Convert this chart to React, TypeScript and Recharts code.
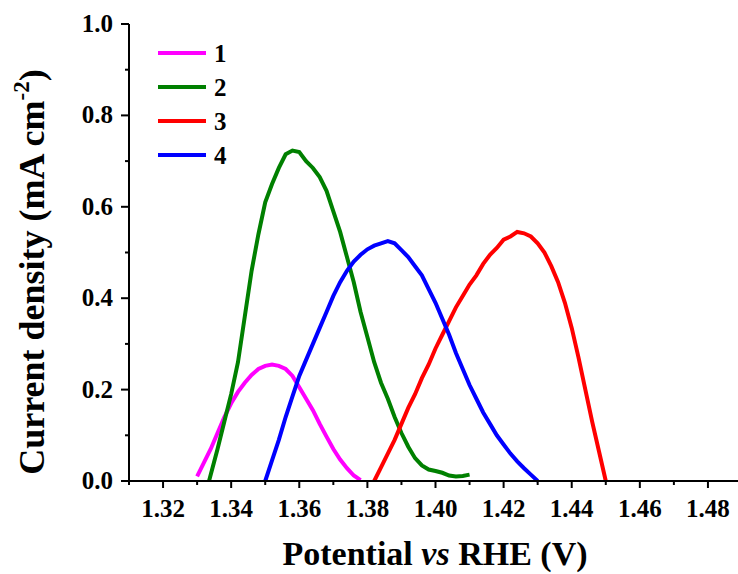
import React from 'react';
import { LineChart, Line, XAxis, YAxis, Legend, Label } from 'recharts';

const FONT = '"Liberation Serif", "Times New Roman", serif';

// curve 1 (magenta)
const series1 = [
  { x: 1.330, y: 0.01 }, { x: 1.332, y: 0.04 }, { x: 1.334, y: 0.07 }, { x: 1.336, y: 0.105 },
  { x: 1.338, y: 0.14 }, { x: 1.340, y: 0.17 }, { x: 1.342, y: 0.195 }, { x: 1.344, y: 0.215 },
  { x: 1.346, y: 0.232 }, { x: 1.348, y: 0.245 }, { x: 1.350, y: 0.252 }, { x: 1.352, y: 0.255 },
  { x: 1.354, y: 0.252 }, { x: 1.356, y: 0.245 }, { x: 1.358, y: 0.23 }, { x: 1.360, y: 0.205 },
  { x: 1.362, y: 0.18 }, { x: 1.364, y: 0.155 }, { x: 1.366, y: 0.125 }, { x: 1.368, y: 0.097 },
  { x: 1.370, y: 0.07 }, { x: 1.372, y: 0.047 }, { x: 1.374, y: 0.028 }, { x: 1.376, y: 0.012 },
  { x: 1.378, y: 0.002 },
];

// curve 2 (green)
const series2 = [
  { x: 1.3335, y: 0.0 }, { x: 1.336, y: 0.07 }, { x: 1.338, y: 0.13 }, { x: 1.340, y: 0.19 },
  { x: 1.342, y: 0.26 }, { x: 1.344, y: 0.36 }, { x: 1.346, y: 0.46 }, { x: 1.348, y: 0.54 },
  { x: 1.350, y: 0.61 }, { x: 1.352, y: 0.65 }, { x: 1.354, y: 0.685 }, { x: 1.356, y: 0.715 },
  { x: 1.358, y: 0.723 }, { x: 1.360, y: 0.72 }, { x: 1.362, y: 0.70 }, { x: 1.364, y: 0.685 },
  { x: 1.366, y: 0.665 }, { x: 1.368, y: 0.635 }, { x: 1.370, y: 0.59 }, { x: 1.372, y: 0.545 },
  { x: 1.374, y: 0.49 }, { x: 1.376, y: 0.435 }, { x: 1.378, y: 0.37 }, { x: 1.380, y: 0.315 },
  { x: 1.382, y: 0.26 }, { x: 1.384, y: 0.215 }, { x: 1.386, y: 0.18 }, { x: 1.388, y: 0.14 },
  { x: 1.390, y: 0.105 }, { x: 1.392, y: 0.075 }, { x: 1.394, y: 0.05 }, { x: 1.396, y: 0.034 },
  { x: 1.398, y: 0.025 }, { x: 1.400, y: 0.022 }, { x: 1.402, y: 0.018 }, { x: 1.404, y: 0.012 },
  { x: 1.406, y: 0.01 }, { x: 1.408, y: 0.011 }, { x: 1.410, y: 0.014 },
];

// curve 3 (red)
const series3 = [
  { x: 1.382, y: 0.0 }, { x: 1.384, y: 0.03 }, { x: 1.386, y: 0.06 }, { x: 1.388, y: 0.09 },
  { x: 1.390, y: 0.125 }, { x: 1.392, y: 0.16 }, { x: 1.394, y: 0.19 }, { x: 1.396, y: 0.225 },
  { x: 1.398, y: 0.255 }, { x: 1.400, y: 0.29 }, { x: 1.402, y: 0.32 }, { x: 1.404, y: 0.35 },
  { x: 1.406, y: 0.38 }, { x: 1.408, y: 0.405 }, { x: 1.410, y: 0.43 }, { x: 1.412, y: 0.45 },
  { x: 1.414, y: 0.475 }, { x: 1.416, y: 0.495 }, { x: 1.418, y: 0.51 }, { x: 1.420, y: 0.528 },
  { x: 1.422, y: 0.535 }, { x: 1.424, y: 0.545 }, { x: 1.426, y: 0.542 }, { x: 1.428, y: 0.535 },
  { x: 1.430, y: 0.52 }, { x: 1.432, y: 0.50 }, { x: 1.434, y: 0.47 }, { x: 1.436, y: 0.435 },
  { x: 1.438, y: 0.39 }, { x: 1.440, y: 0.335 }, { x: 1.442, y: 0.27 }, { x: 1.444, y: 0.20 },
  { x: 1.446, y: 0.13 }, { x: 1.448, y: 0.065 }, { x: 1.450, y: 0.0 },
];

// curve 4 (blue)
const series4 = [
  { x: 1.350, y: 0.0 }, { x: 1.352, y: 0.045 }, { x: 1.354, y: 0.09 }, { x: 1.356, y: 0.14 },
  { x: 1.358, y: 0.185 }, { x: 1.360, y: 0.23 }, { x: 1.362, y: 0.265 }, { x: 1.364, y: 0.30 },
  { x: 1.366, y: 0.335 }, { x: 1.368, y: 0.37 }, { x: 1.370, y: 0.405 }, { x: 1.372, y: 0.435 },
  { x: 1.374, y: 0.46 }, { x: 1.376, y: 0.48 }, { x: 1.378, y: 0.495 }, { x: 1.380, y: 0.507 },
  { x: 1.382, y: 0.515 }, { x: 1.384, y: 0.52 }, { x: 1.386, y: 0.525 }, { x: 1.388, y: 0.52 },
  { x: 1.390, y: 0.505 }, { x: 1.392, y: 0.49 }, { x: 1.394, y: 0.47 }, { x: 1.396, y: 0.45 },
  { x: 1.398, y: 0.42 }, { x: 1.400, y: 0.39 }, { x: 1.402, y: 0.355 }, { x: 1.404, y: 0.32 },
  { x: 1.406, y: 0.28 }, { x: 1.408, y: 0.245 }, { x: 1.410, y: 0.21 }, { x: 1.412, y: 0.18 },
  { x: 1.414, y: 0.15 }, { x: 1.416, y: 0.125 }, { x: 1.418, y: 0.10 }, { x: 1.420, y: 0.08 },
  { x: 1.422, y: 0.06 }, { x: 1.424, y: 0.043 }, { x: 1.426, y: 0.028 }, { x: 1.428, y: 0.014 },
  { x: 1.430, y: 0.0 },
];

const xTicks = [1.31, 1.32, 1.33, 1.34, 1.35, 1.36, 1.37, 1.38, 1.39, 1.40,
  1.41, 1.42, 1.43, 1.44, 1.45, 1.46, 1.47, 1.48, 1.49];
const yTicks = [0, 0.1, 0.2, 0.3, 0.4, 0.5, 0.6, 0.7, 0.8, 0.9, 1.0];

const XTick = (props: any) => {
  const { x, y, payload } = props;
  const v = payload.value;
  const major = Math.round(v * 100) % 2 === 0;
  return (
    <g>
      <line x1={x} x2={x} y1={y} y2={y + (major ? 7 : 4)} stroke="#000" strokeWidth={2} />
      {major && (
        <text x={x} y={y + 36} textAnchor="middle" fontFamily={FONT} fontWeight="bold" fontSize={25} fill="#000">
          {v.toFixed(2)}
        </text>
      )}
    </g>
  );
};

const YTick = (props: any) => {
  const { x, y, payload } = props;
  const v = payload.value;
  const major = Math.round(v * 10) % 2 === 0;
  return (
    <g>
      <line x1={x} x2={x - (major ? 8 : 4)} y1={y} y2={y} stroke="#000" strokeWidth={2} />
      {major && (
        <text x={x - 16} y={y + 8} textAnchor="end" fontFamily={FONT} fontWeight="bold" fontSize={25} fill="#000">
          {v.toFixed(1)}
        </text>
      )}
    </g>
  );
};

const XTitle = () => (
  <text x={435} y={565} textAnchor="middle" fontFamily={FONT} fontWeight="bold" fontSize={34} fill="#000">
    Potential <tspan fontStyle="italic">vs</tspan> RHE (V)
  </text>
);

const YTitle = () => (
  <text
    transform="translate(44, 272) rotate(-90)"
    textAnchor="middle"
    fontFamily={FONT}
    fontWeight="bold"
    fontSize={36}
    fill="#000"
  >
    Current density (mA cm<tspan dy={-15} fontSize={23}>-2</tspan><tspan dy={15}>)</tspan>
  </text>
);

const renderLegend = (props: any) => {
  const { payload } = props;
  return (
    <div>
      {(payload || []).map((p: any) => (
        <div key={p.value} style={{ display: 'flex', alignItems: 'center', height: 34 }}>
          <div style={{ width: 48, height: 4, background: p.color, marginRight: 8 }} />
          <span style={{ fontFamily: FONT, fontWeight: 'bold', fontSize: 25, color: '#000', lineHeight: '25px' }}>
            {p.value}
          </span>
        </div>
      ))}
    </div>
  );
};

export default function App() {
  return (
    <div style={{ position: 'absolute', left: 0, top: 0, width: 738, height: 574, overflow: 'hidden', background: '#fff' }}>
      <LineChart width={750} height={574} margin={{ top: 24, right: 8, bottom: 33, left: 49 }}>
        <XAxis
          dataKey="x"
          type="number"
          domain={[1.31, 1.49]}
          ticks={xTicks}
          interval={0}
          allowDataOverflow
          height={60}
          tickSize={0}
          tickMargin={0}
          tickLine={false}
          tick={<XTick />}
          axisLine={{ stroke: '#000', strokeWidth: 2 }}
        >
          <Label content={<XTitle />} />
        </XAxis>
        <XAxis
          xAxisId="top"
          orientation="top"
          type="number"
          domain={[1.31, 1.49]}
          ticks={xTicks}
          height={0}
          tick={false}
          tickSize={3}
          tickLine={{ stroke: '#000', strokeWidth: 1.5 }}
          axisLine={{ stroke: '#000', strokeWidth: 2 }}
        />
        <YAxis
          type="number"
          domain={[0, 1]}
          ticks={yTicks}
          interval={0}
          width={80}
          tickSize={0}
          tickMargin={0}
          tickLine={false}
          tick={<YTick />}
          axisLine={{ stroke: '#000', strokeWidth: 2 }}
        >
          <Label content={<YTitle />} />
        </YAxis>
        <Legend
          layout="vertical"
          align="center"
          verticalAlign="middle"
          content={renderLegend}
          wrapperStyle={{ left: 158, top: 36, width: 100 }}
        />
        <Line data={series1} dataKey="y" name="1" type="linear" stroke="#FF00FF" strokeWidth={4} dot={false} isAnimationActive={false} />
        <Line data={series2} dataKey="y" name="2" type="linear" stroke="#008000" strokeWidth={4} dot={false} isAnimationActive={false} />
        <Line data={series3} dataKey="y" name="3" type="linear" stroke="#FF0000" strokeWidth={4} dot={false} isAnimationActive={false} />
        <Line data={series4} dataKey="y" name="4" type="linear" stroke="#0000FF" strokeWidth={4} dot={false} isAnimationActive={false} />
      </LineChart>
    </div>
  );
}
